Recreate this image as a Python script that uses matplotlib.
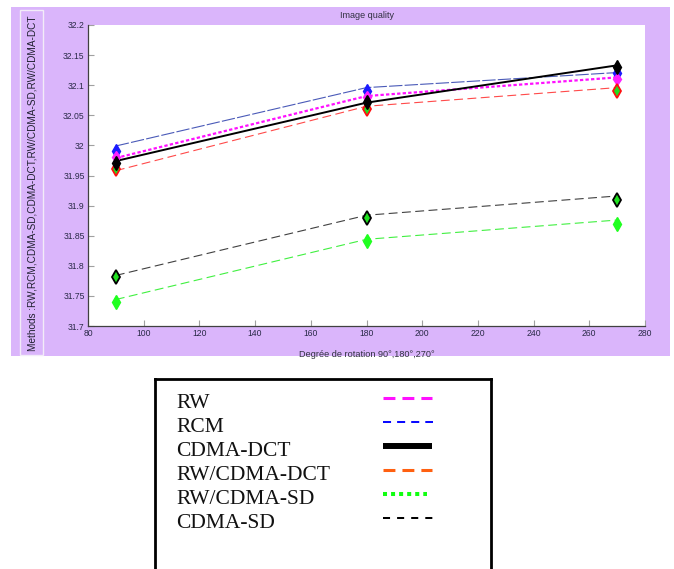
import matplotlib
matplotlib.use("Agg")
import matplotlib.pyplot as plt
from matplotlib.patches import Rectangle

# ---------------- data ----------------
angles = [90, 180, 270]
methods = ["RW", "RCM", "CDMA-DCT", "RW/CDMA-DCT", "RW/CDMA-SD", "CDMA-SD"]

# line values (as drawn by the curves)
rw_line = [31.979, 32.082, 32.113]
rcm_line = [31.999, 32.096, 32.121]
cdma_dct_line = [31.974, 32.071, 32.133]
rw_cdma_dct_line = [31.958, 32.065, 32.096]
rw_cdma_sd_line = [31.744, 31.844, 31.876]
cdma_sd_line = [31.784, 31.884, 31.916]

# marker values
rw_pts = [31.980, 32.081, 32.110]
rcm_pts = [31.990, 32.091, 32.120]
cdma_dct_pts = [31.970, 32.072, 32.131]
rw_cdma_dct_pts = [31.960, 32.060, 32.090]
rw_cdma_sd_pts = [31.740, 31.841, 31.869]
cdma_sd_pts = [31.781, 31.880, 31.910]

xticks = [80, 100, 120, 140, 160, 180, 200, 220, 240, 260, 280]
yticks = [31.7, 31.75, 31.8, 31.85, 31.9, 31.95, 32.0, 32.05, 32.1, 32.15, 32.2]
ytick_labels = ["31.7", "31.75", "31.8", "31.85", "31.9", "31.95", "32",
                "32.05", "32.1", "32.15", "32.2"]

W, H = 674, 569
PURPLE = "#dab5fb"
fig = plt.figure(figsize=(W / 100, H / 100), dpi=100)
fig.patch.set_facecolor("white")


def fx(px):
    return px / W


def fy(py):
    return 1 - py / H


# purple background panel
fig.patches.append(Rectangle((fx(11), fy(356)), fx(670) - fx(11), fy(7) - fy(356),
                             transform=fig.transFigure, facecolor=PURPLE,
                             edgecolor="none", zorder=-2))
# y label frame
fig.patches.append(Rectangle((fx(20), fy(355)), fx(43) - fx(20), fy(10) - fy(355),
                             transform=fig.transFigure, facecolor=PURPLE,
                             edgecolor="#f2ecf8", lw=1.0, zorder=-1))
fig.text(fx(33), fy(183), "Methods :RW,RCM,CDMA-SD,CDMA-DCT,RW/CDMA-SD,RW/CDMA-DCT",
         rotation=90, ha="center", va="center", fontsize=7.2,
         family="Liberation Sans", color="#202030")

# main axes
ax = fig.add_axes([fx(88), fy(326), fx(645) - fx(88), fy(25) - fy(326)])
ax.set_facecolor("white")
ax.set_xlim(80, 280)
ax.set_ylim(31.7, 32.2)
ax.set_xticks(xticks)
ax.set_yticks(yticks)
ax.set_yticklabels(ytick_labels)
ax.tick_params(direction="in", length=4, width=0.8, color="#a0a0a0",
               labelsize=6.2, labelcolor="#2a2a48", pad=2.5)
for lab in ax.get_xticklabels() + ax.get_yticklabels():
    lab.set_family("Liberation Sans")
for s in ["top", "right"]:
    ax.spines[s].set_visible(False)
for s in ["left", "bottom"]:
    ax.spines[s].set_color("#404040")
    ax.spines[s].set_linewidth(0.9)

ax.set_title("Image quality", fontsize=6.5, family="Liberation Sans",
             color="#303040", pad=5)
ax.set_xlabel("Degrée de rotation 90°,180°,270°", fontsize=6.6,
              family="Liberation Sans", color="#303040", labelpad=8)

# curves
ax.plot(angles, rcm_line, color="#4a5ab8", lw=0.8, dashes=(12, 2), zorder=2)
ax.plot(angles, rw_cdma_dct_line, color="#ff4a4a", lw=0.8, dashes=(8, 4), zorder=2)
ax.plot(angles, cdma_sd_line, color="#404040", lw=0.8, dashes=(8, 4), zorder=2)
ax.plot(angles, rw_cdma_sd_line, color="#40f040", lw=0.8, dashes=(8, 4), zorder=2)
ax.plot(angles, rw_line, color="#ff10ff", lw=1.6, linestyle=(0, (1.5, 1)), zorder=3)
ax.plot(angles, cdma_dct_line, color="black", lw=1.4, zorder=3)

# markers
ms = 7
ax.plot(angles, rcm_pts, "d", color="#1a1aff", ms=ms, mec="#1a1aff", zorder=5)
ax.plot(angles, rw_pts, "d", color="#ff20ff", ms=6, mec="#ff20ff", zorder=5)
ax.plot(angles, rw_cdma_dct_pts, "d", color="#20e020", ms=ms, mec="#ff1010",
        mew=1.3, zorder=5)
ax.plot(angles, cdma_dct_pts, "d", color="black", ms=ms, mec="black", zorder=6)
ax.plot(angles, cdma_sd_pts, "d", color="#20e020", ms=ms, mec="black",
        mew=1.3, zorder=5)
ax.plot(angles, rw_cdma_sd_pts, "d", color="#20ff20", ms=ms, mec="#20ff20", zorder=5)

# ---------------- separate legend box ----------------
lx0, lx1, ly0, ly1 = 155, 491, 379, 569
lax = fig.add_axes([fx(lx0), fy(ly1), fx(lx1) - fx(lx0), fy(ly0) - fy(ly1)])
lax.set_xlim(0, lx1 - lx0)
lax.set_ylim(ly1 - ly0, 0)
lax.set_xticks([])
lax.set_yticks([])
for s in ["top", "left", "right"]:
    lax.spines[s].set_linewidth(2.0)
    lax.spines[s].set_color("black")
lax.spines["bottom"].set_visible(False)

leg_styles = [
    (dict(color="#ff10ff", lw=2.2, dashes=(3.9, 2.3)), 49),
    (dict(color="#0a0aff", lw=1.45, dashes=(4.0, 3.0)), 50),
    (dict(color="black", lw=4.3, linestyle="-"), 49),
    (dict(color="#ff6010", lw=2.2, dashes=(3.9, 2.3)), 49),
    (dict(color="#10ff10", lw=2.9, dashes=(1, 1)), 44),
    (dict(color="black", lw=1.45, dashes=(3.5, 3.5)), 50),
]
for i, (name, (st, ln)) in enumerate(zip(methods, leg_styles)):
    yc = 403 - ly0 + 24 * i
    lax.text(21, yc, name, ha="left", va="center", fontsize=15.5,
             family="Liberation Serif", color="#111111")
    lax.plot([228, 228 + ln], [yc - 5, yc - 5], solid_capstyle="butt",
             dash_capstyle="butt", **st)

fig.savefig("out.png", dpi=100, facecolor="white")
